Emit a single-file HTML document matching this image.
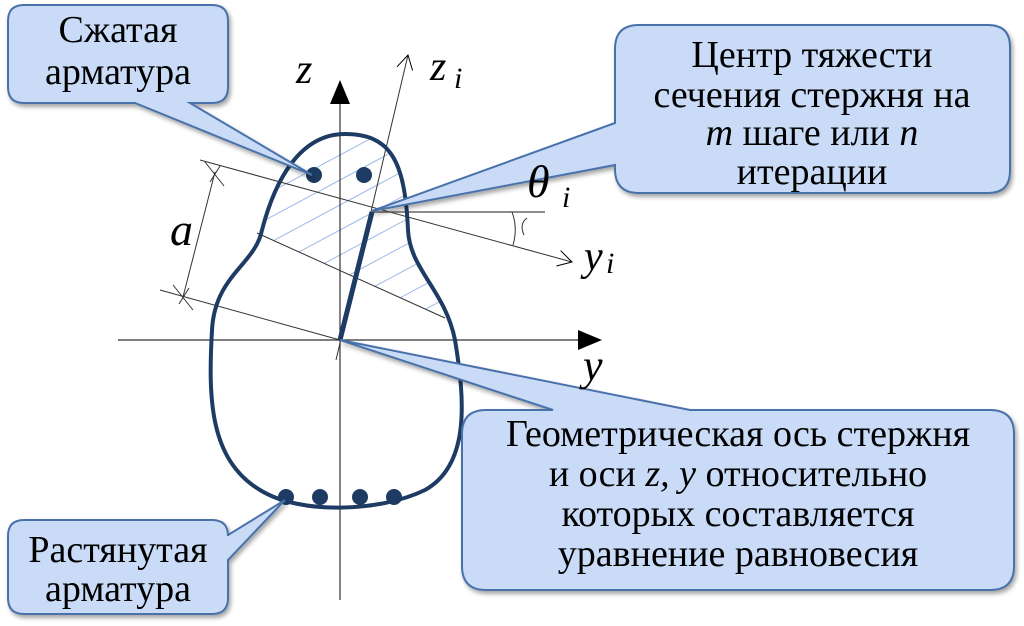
<!DOCTYPE html>
<html><head><meta charset="utf-8"><style>
html,body{margin:0;padding:0;background:#fff;}
svg{display:block;}
</style></head><body>
<svg width="1024" height="626" viewBox="0 0 1024 626" xmlns="http://www.w3.org/2000/svg" font-family="'Liberation Serif','DejaVu Serif',serif">
<defs>
<marker id="ah" markerWidth="24" markerHeight="20" refX="20" refY="10" orient="auto" markerUnits="userSpaceOnUse"><path d="M0,0 L24,10 L0,20 Z" fill="#000"/></marker>
<marker id="oh" markerWidth="18" markerHeight="18" refX="16" refY="9" orient="auto" markerUnits="userSpaceOnUse"><path d="M2,1 L16,9 L2,17" fill="none" stroke="#000" stroke-width="1"/></marker>
<clipPath id="blob"><path d="M345,134 C300,134 275,180 262,230 C255,265 215,275 212,330 C208,400 210,460 260,490 C300,515 380,512 425,490 C470,465 465,400 455,340 C445,290 410,270 408,230 C405,160 390,134 345,134 Z"/></clipPath>
<filter id="sh" x="-5%" y="-5%" width="112%" height="115%"><feDropShadow dx="2" dy="3" stdDeviation="2" flood-color="#000" flood-opacity="0.35"/></filter>
</defs>

<g clip-path="url(#blob)">
  <g stroke="#9fbbe8" stroke-width="1">
    <line x1="200" y1="230" x2="480" y2="80"/><line x1="200" y1="255" x2="480" y2="105"/>
    <line x1="200" y1="280" x2="480" y2="130"/><line x1="200" y1="305" x2="480" y2="155"/>
    <line x1="200" y1="330" x2="480" y2="180"/><line x1="200" y1="355" x2="480" y2="205"/>
    <line x1="200" y1="380" x2="480" y2="230"/><line x1="200" y1="405" x2="480" y2="255"/>
    <line x1="200" y1="430" x2="480" y2="280"/>
  </g>
</g>
<polygon points="150,295 500,395 500,500 150,500" fill="#fff"/>
<polygon points="150,280 257,233 445,318 500,330 500,400 150,300" fill="#fff" clip-path="url(#blob)"/>

<g stroke="#333" stroke-width="1" fill="none">
  <line x1="118" y1="340" x2="598" y2="340" stroke-width="1.2" marker-end="url(#ah)"/>
  <line x1="340" y1="600" x2="340" y2="84" stroke-width="1.2" marker-end="url(#ah)"/>
  <line x1="336" y1="360" x2="408" y2="55" marker-end="url(#oh)"/>
  <line x1="200" y1="160" x2="572" y2="262" marker-end="url(#oh)"/>
  <line x1="160" y1="290" x2="340" y2="340"/>
  <line x1="257" y1="233" x2="445" y2="318"/>
  <line x1="372" y1="212" x2="545" y2="212" stroke="#666" stroke-width="1.5"/>
  <line x1="215" y1="172" x2="183" y2="297"/>
  <line x1="205" y1="162" x2="224" y2="186"/><line x1="210" y1="182" x2="220" y2="166"/>
  <line x1="173" y1="285" x2="193" y2="310"/><line x1="179" y1="304" x2="189" y2="288"/>
  <path d="M512,212 Q518,228 513,245"/>
  <path d="M527,218 Q519,224 524,235"/>
</g>

<path d="M345,134 C300,134 275,180 262,230 C255,265 215,275 212,330 C208,400 210,460 260,490 C300,515 380,512 425,490 C470,465 465,400 455,340 C445,290 410,270 408,230 C405,160 390,134 345,134 Z" fill="none" stroke="#1d3b63" stroke-width="4"/>
<line x1="340" y1="340" x2="372" y2="212" stroke="#1d3b63" stroke-width="5"/>
<g fill="#1d3b63">
  <circle cx="314" cy="175" r="8"/><circle cx="364" cy="175" r="8"/>
  <circle cx="286" cy="497" r="8"/><circle cx="320" cy="497" r="8"/><circle cx="360" cy="497" r="8"/><circle cx="394" cy="497" r="8"/>
</g>

<g fill="#c9dbf7" stroke="#4a72aa" stroke-width="2" filter="url(#sh)">
  <path d="M24,5 H212 Q228,5 228,21 V87 Q228,103 212,103 H190 L312,175 L135,103 H24 Q8,103 8,87 V21 Q8,5 24,5 Z"/>
  <path d="M639,25 H988 Q1010,25 1010,47 V171 Q1010,193 988,193 H639 Q615,193 615,169 V165 L372,211 L615,123 V49 Q615,25 639,25 Z"/>
  <path d="M490,410 H553 L340,340 L690,410 H990 Q1014,410 1014,434 V566 Q1014,590 990,590 H486 Q462,590 462,566 V434 Q462,410 486,410 Z"/>
  <path d="M24,520 H212 Q228,520 228,536 V535 L285,500 L228,560 V598 Q228,614 212,614 H24 Q8,614 8,598 V536 Q8,520 24,520 Z"/>
</g>

<g font-size="38" text-anchor="middle" fill="#000" font-family="'Liberation Serif','DejaVu Serif',serif">
  <text x="118" y="42">Сжатая</text>
  <text x="118" y="84">арматура</text>
  <text x="812" y="67">Центр тяжести</text>
  <text x="812" y="107">сечения стержня на</text>
  <text x="812" y="145"><tspan font-style="italic">m</tspan> шаге или <tspan font-style="italic">n</tspan></text>
  <text x="812" y="184">итерации</text>
  <text x="738" y="446">Геометрическая ось стержня</text>
  <text x="738" y="486">и оси <tspan font-style="italic">z, y</tspan> относительно</text>
  <text x="738" y="526">которых составляется</text>
  <text x="738" y="566">уравнение равновесия</text>
  <text x="118" y="562">Растянутая</text>
  <text x="118" y="601">арматура</text>
</g>

<g font-style="italic" fill="#000" font-family="'Liberation Serif','DejaVu Serif',serif">
  <text x="296" y="83" font-size="42">z</text>
  <text x="430" y="80" font-size="42">z</text><text x="454" y="88" font-size="30">i</text>
  <text x="527" y="197" font-size="46">θ</text><text x="562" y="207" font-size="30">i</text>
  <text x="584" y="270" font-size="42">y</text><text x="606" y="273" font-size="30">i</text>
  <text x="583" y="380" font-size="44">y</text>
  <text x="170" y="245" font-size="46">a</text>
</g>
</svg>
</body></html>
